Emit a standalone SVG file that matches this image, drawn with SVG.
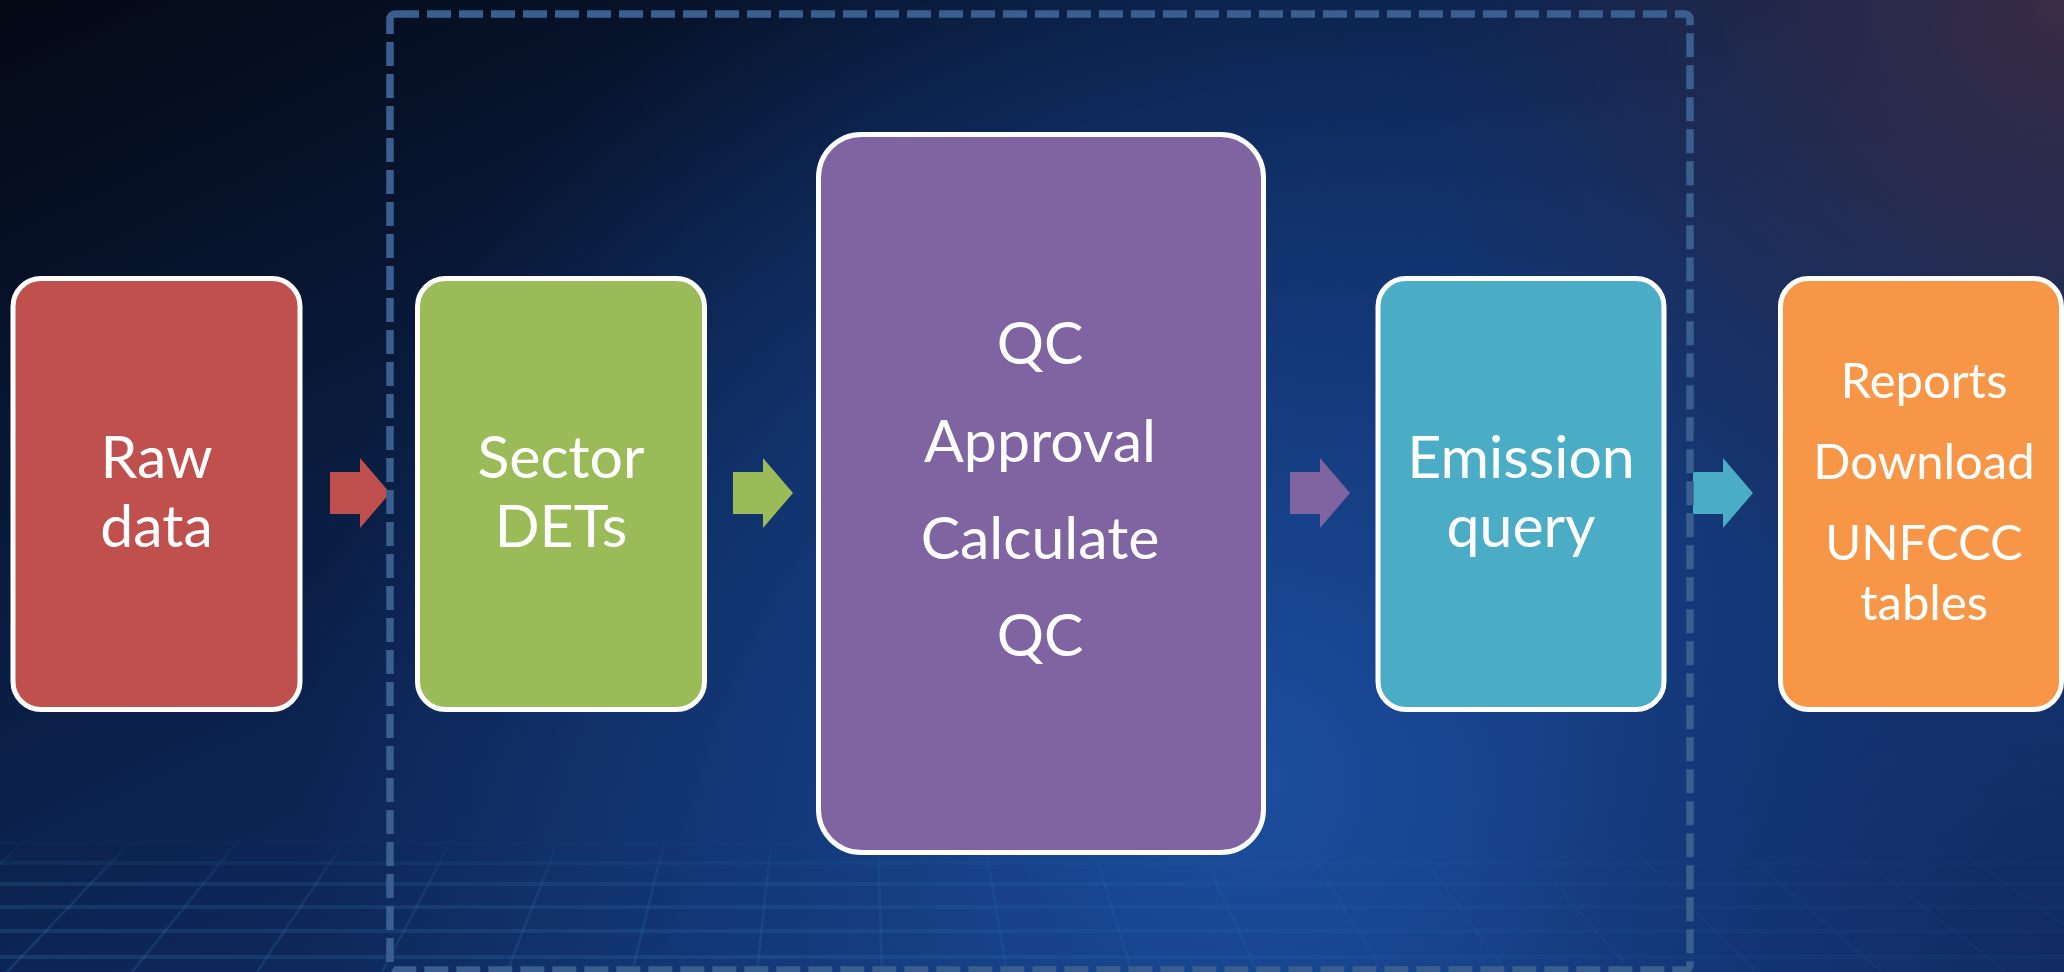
<svg xmlns="http://www.w3.org/2000/svg" width="2064" height="972" viewBox="0 0 2064 972">
  <defs>
    <linearGradient id="bgBase" x1="0" y1="0" x2="1" y2="1">
      <stop offset="0" stop-color="#040914"/>
      <stop offset="0.45" stop-color="#0c2350"/>
      <stop offset="1" stop-color="#153a7c"/>
    </linearGradient>
    <radialGradient id="bgGlow" cx="1250" cy="780" r="950" gradientUnits="userSpaceOnUse">
      <stop offset="0" stop-color="#1c4ea0" stop-opacity="1"/>
      <stop offset="0.5" stop-color="#17438c" stop-opacity="0.6"/>
      <stop offset="1" stop-color="#17438c" stop-opacity="0"/>
    </radialGradient>
    <radialGradient id="bgCorner" cx="2064" cy="0" r="650" gradientUnits="userSpaceOnUse">
      <stop offset="0" stop-color="#3a2c46" stop-opacity="1"/>
      <stop offset="1" stop-color="#2a2a48" stop-opacity="0"/>
    </radialGradient>
    <radialGradient id="bgBR" cx="2064" cy="972" r="600" gradientUnits="userSpaceOnUse">
      <stop offset="0" stop-color="#0f2458" stop-opacity="0.7"/>
      <stop offset="1" stop-color="#0f2458" stop-opacity="0"/>
    </radialGradient>
    <linearGradient id="gridFadeV" x1="0" y1="835" x2="0" y2="972" gradientUnits="userSpaceOnUse">
      <stop offset="0" stop-color="#fff" stop-opacity="0"/>
      <stop offset="0.35" stop-color="#fff" stop-opacity="0.8"/>
      <stop offset="1" stop-color="#fff" stop-opacity="1"/>
    </linearGradient>
    <linearGradient id="gridFadeH" x1="0" y1="0" x2="2064" y2="0" gradientUnits="userSpaceOnUse">
      <stop offset="0" stop-color="#fff" stop-opacity="1"/>
      <stop offset="0.4" stop-color="#fff" stop-opacity="0.7"/>
      <stop offset="0.7" stop-color="#fff" stop-opacity="0.3"/>
      <stop offset="1" stop-color="#fff" stop-opacity="0.25"/>
    </linearGradient>
    <mask id="gridMaskV">
      <rect x="0" y="830" width="2064" height="142" fill="url(#gridFadeV)"/>
    </mask>
    <mask id="gridMaskH">
      <rect x="0" y="830" width="2064" height="142" fill="url(#gridFadeH)"/>
    </mask>
    <style>
      .box { stroke: #ffffff; stroke-width: 5; }
      .lbl { font-family: Lato, "Liberation Sans", sans-serif; fill: #ffffff; text-anchor: middle; font-size: 59px; }
      .lbl-s { font-size: 49px; }
      .grid line { stroke: #3a9ccc; stroke-opacity: 0.2; }
      .gh { stroke-width: 4; }
      .gd { stroke-width: 2.5; }
      .group { fill: none; stroke: #3a5f8f; stroke-width: 7.5; stroke-dasharray: 24 8; }
    </style>
  </defs>

  <g id="background">
    <rect x="0" y="0" width="2064" height="972" fill="url(#bgBase)"/>
    <rect x="0" y="0" width="2064" height="972" fill="url(#bgGlow)"/>
    <rect x="0" y="0" width="2064" height="972" fill="url(#bgBR)"/>
    <rect x="0" y="0" width="2064" height="972" fill="url(#bgCorner)"/>
    <g mask="url(#gridMaskH)">
    <g class="grid" mask="url(#gridMaskV)">
      <line class="gh" x1="0" y1="843" x2="2064" y2="843"/>
      <line class="gh" x1="0" y1="863" x2="2064" y2="863"/>
      <line class="gh" x1="0" y1="884" x2="2064" y2="884"/>
      <line class="gh" x1="0" y1="907" x2="2064" y2="907"/>
      <line class="gh" x1="0" y1="931" x2="2064" y2="931"/>
      <line class="gh" x1="0" y1="957" x2="2064" y2="957"/>
      <line class="gd" x1="854" y1="79" x2="-493" y2="972"/>
      <line class="gd" x1="854" y1="79" x2="-368" y2="972"/>
      <line class="gd" x1="854" y1="79" x2="-243" y2="972"/>
      <line class="gd" x1="854" y1="79" x2="-118" y2="972"/>
      <line class="gd" x1="854" y1="79" x2="7" y2="972"/>
      <line class="gd" x1="854" y1="79" x2="132" y2="972"/>
      <line class="gd" x1="854" y1="79" x2="257" y2="972"/>
      <line class="gd" x1="854" y1="79" x2="382" y2="972"/>
      <line class="gd" x1="854" y1="79" x2="507" y2="972"/>
      <line class="gd" x1="854" y1="79" x2="632" y2="972"/>
      <line class="gd" x1="854" y1="79" x2="757" y2="972"/>
      <line class="gd" x1="854" y1="79" x2="882" y2="972"/>
      <line class="gd" x1="854" y1="79" x2="1007" y2="972"/>
      <line class="gd" x1="854" y1="79" x2="1132" y2="972"/>
      <line class="gd" x1="854" y1="79" x2="1257" y2="972"/>
      <line class="gd" x1="854" y1="79" x2="1382" y2="972"/>
      <line class="gd" x1="854" y1="79" x2="1507" y2="972"/>
      <line class="gd" x1="854" y1="79" x2="1632" y2="972"/>
      <line class="gd" x1="854" y1="79" x2="1757" y2="972"/>
      <line class="gd" x1="854" y1="79" x2="1882" y2="972"/>
      <line class="gd" x1="854" y1="79" x2="2007" y2="972"/>
      <line class="gd" x1="854" y1="79" x2="2132" y2="972"/>
      <line class="gd" x1="854" y1="79" x2="2257" y2="972"/>
      <line class="gd" x1="854" y1="79" x2="2382" y2="972"/>
    </g>
    </g>
  </g>

  <g id="connectors">
    <polygon fill="#C0504D" points="330,472 360,472 360,458 390,493 360,528 360,514 330,514"/>
    <polygon fill="#9BBB59" points="733,472 763,472 763,458 793,493 763,528 763,514 733,514"/>
    <polygon fill="#8064A2" points="1290,472 1320,472 1320,458 1350,493 1320,528 1320,514 1290,514"/>
    <polygon fill="#4BACC6" points="1693,472 1723,472 1723,458 1753,493 1723,528 1723,514 1693,514"/>
  </g>

  <g id="group-boundary">
    <rect class="group" x="390" y="14" width="1300" height="956" rx="5"/>
  </g>

  <g id="node-raw-data">
    <rect class="box" x="13" y="278.5" width="287" height="431" rx="28" fill="#C0504D"/>
    <text class="lbl" x="156.5" y="478">Raw</text>
    <text class="lbl" x="156.5" y="547">data</text>
  </g>

  <g id="node-sector-dets">
    <rect class="box" x="417.5" y="278.5" width="287" height="431" rx="28" fill="#9BBB59"/>
    <text class="lbl" x="561" y="478">Sector</text>
    <text class="lbl" x="561" y="547">DETs</text>
  </g>

  <g id="node-qc">
    <rect class="box" x="818.5" y="134.5" width="445" height="718" rx="43" fill="#8064A2"/>
    <text class="lbl" x="1040" y="364">QC</text>
    <text class="lbl" x="1040" y="462">Approval</text>
    <text class="lbl" x="1040" y="559">Calculate</text>
    <text class="lbl" x="1040" y="656">QC</text>
  </g>

  <g id="node-emission-query">
    <rect class="box" x="1378" y="278.5" width="286" height="431" rx="28" fill="#4BACC6"/>
    <text class="lbl" x="1521" y="478">Emission</text>
    <text class="lbl" x="1521" y="547">query</text>
  </g>

  <g id="node-reports">
    <rect class="box" x="1780.5" y="278.5" width="281" height="431" rx="28" fill="#F79646"/>
    <text class="lbl lbl-s" x="1924" y="398">Reports</text>
    <text class="lbl lbl-s" x="1924" y="479">Download</text>
    <text class="lbl lbl-s" x="1924" y="560">UNFCCC</text>
    <text class="lbl lbl-s" x="1924" y="620">tables</text>
  </g>
</svg>
